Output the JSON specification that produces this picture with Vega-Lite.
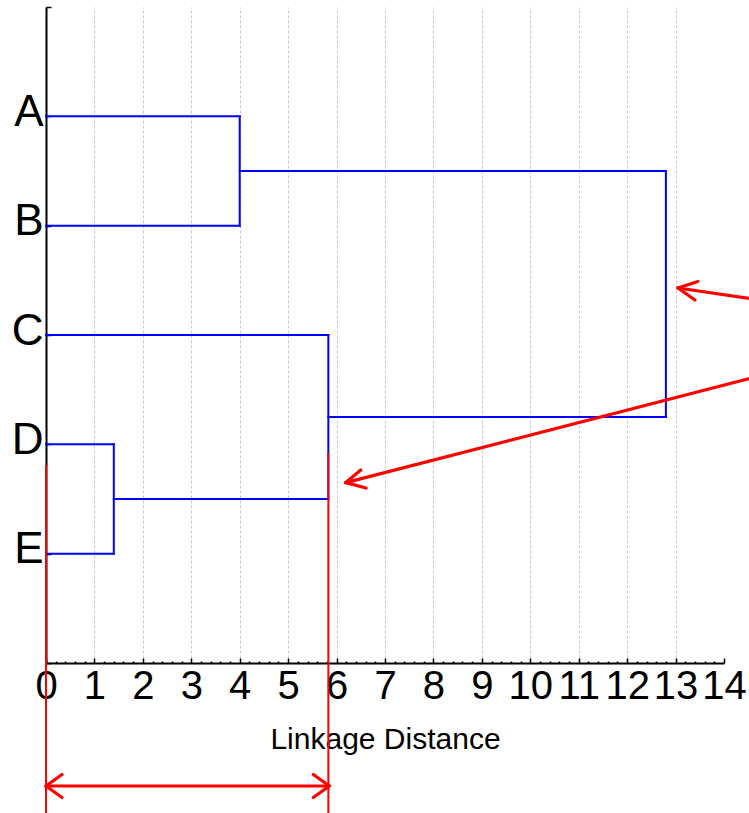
{
  "$schema": "https://vega.github.io/schema/vega-lite/v6.json",
  "autosize": "none",
  "width": 678,
  "height": 656,
  "padding": {"left": 46, "top": 7, "right": 25, "bottom": 150},
  "background": "white",
  "config": {"view": {"stroke": null}},
  "data": {
    "values": [
      {"x": 0, "x2": 4, "y": 1, "y2": 1, "kind": "tree"},
      {"x": 0, "x2": 4, "y": 2, "y2": 2, "kind": "tree"},
      {"x": 4, "x2": 4, "y": 1, "y2": 2, "kind": "tree"},
      {"x": 4, "x2": 12.8, "y": 1.5, "y2": 1.5, "kind": "tree"},
      {"x": 0, "x2": 5.83, "y": 3, "y2": 3, "kind": "tree"},
      {"x": 0, "x2": 1.4, "y": 4, "y2": 4, "kind": "tree"},
      {"x": 0, "x2": 1.4, "y": 5, "y2": 5, "kind": "tree"},
      {"x": 1.4, "x2": 1.4, "y": 4, "y2": 5, "kind": "tree"},
      {"x": 1.4, "x2": 5.83, "y": 4.5, "y2": 4.5, "kind": "tree"},
      {"x": 5.83, "x2": 5.83, "y": 3, "y2": 4.5, "kind": "tree"},
      {"x": 5.83, "x2": 12.8, "y": 3.75, "y2": 3.75, "kind": "tree"},
      {"x": 12.8, "x2": 12.8, "y": 1.5, "y2": 3.75, "kind": "tree"},
      {"x": 0, "x2": 0, "y": 4.19, "y2": 7.4, "kind": "guide"},
      {"x": 5.83, "x2": 5.83, "y": 4.08, "y2": 7.4, "kind": "guide"},
      {"x": 14.6, "x2": 13.05, "y": 2.67, "y2": 2.57, "kind": "arrow"},
      {"x": 13.05, "x2": 13.46, "y": 2.57, "y2": 2.51, "kind": "arrow"},
      {"x": 13.05, "x2": 13.4, "y": 2.57, "y2": 2.68, "kind": "arrow"},
      {"x": 14.6, "x2": 6.19, "y": 3.39, "y2": 4.35, "kind": "arrow"},
      {"x": 6.19, "x2": 6.5, "y": 4.35, "y2": 4.235, "kind": "arrow"},
      {"x": 6.19, "x2": 6.61, "y": 4.35, "y2": 4.4, "kind": "arrow"},
      {"x": 0, "x2": 5.85, "y": 7.125, "y2": 7.125, "kind": "arrow"},
      {"x": 0, "x2": 0.33, "y": 7.125, "y2": 7.02, "kind": "arrow"},
      {"x": 0, "x2": 0.33, "y": 7.125, "y2": 7.23, "kind": "arrow"},
      {"x": 5.85, "x2": 5.52, "y": 7.125, "y2": 7.02, "kind": "arrow"},
      {"x": 5.85, "x2": 5.52, "y": 7.125, "y2": 7.23, "kind": "arrow"}
    ]
  },
  "encoding": {
    "x": {
      "field": "x",
      "type": "quantitative",
      "scale": {"domain": [0, 14], "nice": false, "zero": false},
      "axis": {
        "values": [0,0.2,0.4,0.6,0.8,1,1.2,1.4,1.6,1.8,2,2.2,2.4,2.6,2.8,3,3.2,3.4,3.6,3.8,4,4.2,4.4,4.6,4.8,5,5.2,5.4,5.6,5.8,6,6.2,6.4,6.6,6.8,7,7.2,7.4,7.6,7.8,8,8.2,8.4,8.6,8.8,9,9.2,9.4,9.6,9.8,10,10.2,10.4,10.6,10.8,11,11.2,11.4,11.6,11.8,12,12.2,12.4,12.6,12.8,13,13.2,13.4,13.6,13.8,14],
        "labelExpr": "datum.value == round(datum.value) ? format(datum.value, 'd') : ''",
        "tickSize": {"condition": {"test": "datum.value == round(datum.value)", "value": -5}, "value": -2},
        "tickColor": "black",
        "tickWidth": 1.5,
        "domainColor": "black",
        "domainWidth": 2,
        "grid": true,
        "gridColor": "#c8c8c8",
        "gridDash": [3, 2],
        "gridWidth": 1,
        "gridOpacity": {"condition": {"test": "datum.value == round(datum.value) && datum.value > 0 && datum.value < 14", "value": 1}, "value": 0},
        "labelFont": "Liberation Sans",
        "labelFontSize": 40,
        "labelColor": "black",
        "labelPadding": 8,
        "labelFlush": false,
        "labelOverlap": false,
        "labelBound": false,
        "title": "Linkage Distance",
        "titleFont": "Liberation Sans",
        "titleFontSize": 30,
        "titleFontWeight": "normal",
        "titleColor": "black",
        "titlePadding": 15
      }
    },
    "x2": {"field": "x2"},
    "y": {
      "field": "y",
      "type": "quantitative",
      "scale": {"domain": [0, 6], "nice": false, "zero": false, "reverse": true},
      "axis": {
        "values": [0, 1, 2, 3, 4, 5, 6],
        "labelExpr": "datum.value == 1 ? 'A' : datum.value == 2 ? 'B' : datum.value == 3 ? 'C' : datum.value == 4 ? 'D' : datum.value == 5 ? 'E' : ''",
        "tickSize": -5,
        "tickColor": "black",
        "tickWidth": 1.5,
        "domainColor": "black",
        "domainWidth": 2,
        "grid": false,
        "labelFont": "Liberation Sans",
        "labelFontSize": 44,
        "labelColor": "black",
        "labelPadding": 8,
        "labelOffset": -4,
        "title": null
      }
    },
    "y2": {"field": "y2"}
  },
  "layer": [
    {
      "transform": [{"filter": "datum.kind == 'tree'"}],
      "mark": {"type": "rule", "color": "#0000ff", "strokeWidth": 2, "strokeCap": "square"}
    },
    {
      "transform": [{"filter": "datum.kind == 'guide'"}],
      "mark": {"type": "rule", "color": "#ff0000", "strokeWidth": 2, "strokeCap": "butt"}
    },
    {
      "transform": [{"filter": "datum.kind == 'arrow'"}],
      "mark": {"type": "rule", "color": "#ff0000", "strokeWidth": 3.2, "strokeCap": "round"}
    }
  ]
}
